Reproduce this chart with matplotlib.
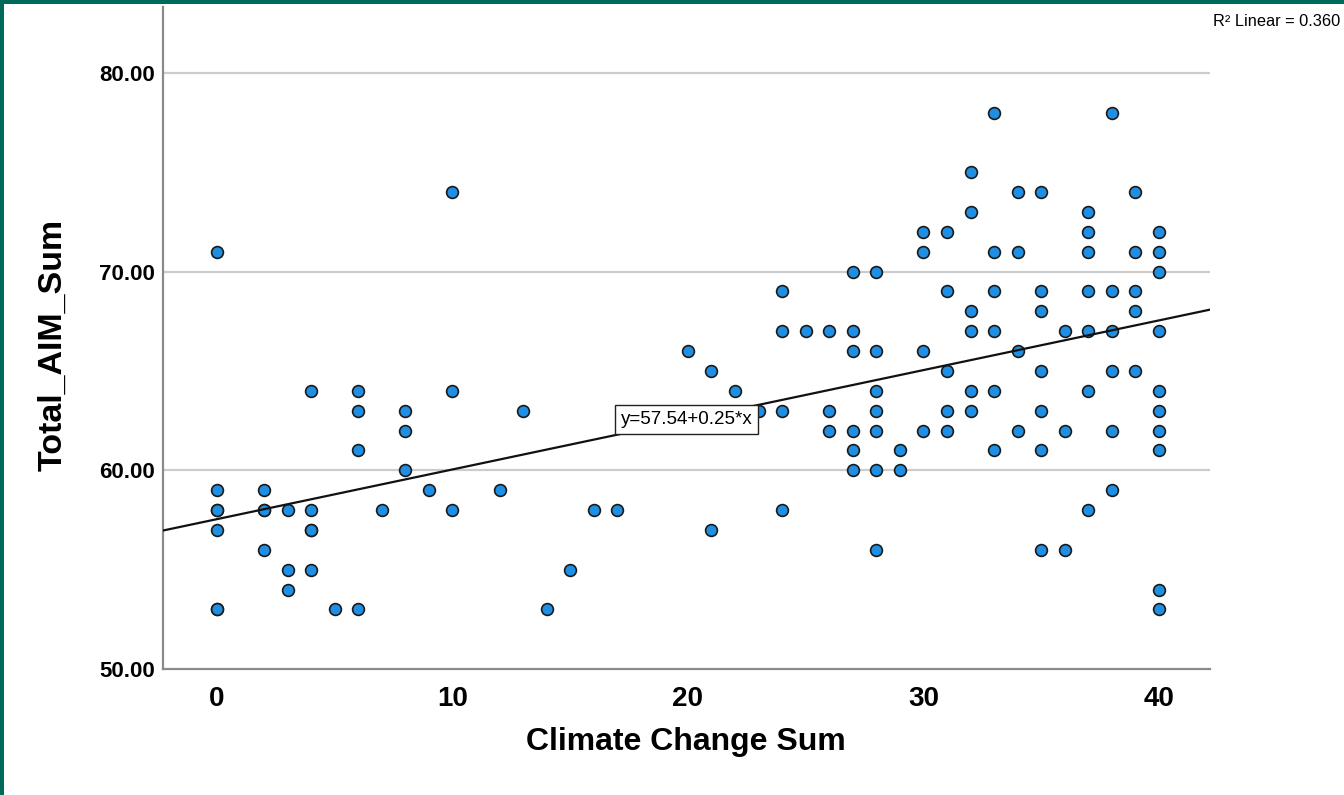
import matplotlib
matplotlib.use("Agg")
import matplotlib.pyplot as plt
import matplotlib.patches as patches

plt.rcParams['font.family'] = ['Liberation Sans', 'DejaVu Sans']

# data (one entry per respondent)
climate_sum = [0, 0, 0, 0, 0, 0, 0,
               2, 2, 2, 2,
               3, 3, 3,
               4, 4, 4, 4, 4,
               5,
               6, 6, 6, 6,
               7,
               8, 8, 8,
               9,
               10, 10, 10,
               12, 13, 14, 15, 16, 17,
               20, 21, 21, 22, 23,
               24, 24, 24, 24,
               25,
               26, 26, 26,
               27, 27, 27, 27, 27, 27,
               28, 28, 28, 28, 28, 28, 28,
               29, 29,
               30, 30, 30, 30,
               31, 31, 31, 31, 31,
               32, 32, 32, 32, 32, 32,
               33, 33, 33, 33, 33, 33,
               34, 34, 34, 34,
               35, 35, 35, 35, 35, 35, 35,
               36, 36, 36,
               37, 37, 37, 37, 37, 37, 37,
               38, 38, 38, 38, 38, 38,
               39, 39, 39, 39, 39,
               40, 40, 40, 40, 40, 40, 40, 40, 40, 40]
aim_sum = [71, 59, 58, 58, 57, 53, 53,
           59, 58, 58, 56,
           58, 55, 54,
           64, 58, 57, 57, 55,
           53,
           64, 63, 61, 53,
           58,
           63, 62, 60,
           59,
           74, 64, 58,
           59, 63, 53, 55, 58, 58,
           66, 65, 57, 64, 63,
           69, 67, 63, 58,
           67,
           67, 63, 62,
           70, 67, 66, 62, 61, 60,
           70, 66, 64, 63, 62, 60, 56,
           61, 60,
           72, 71, 66, 62,
           72, 69, 65, 63, 62,
           75, 73, 68, 67, 64, 63,
           78, 71, 69, 67, 64, 61,
           74, 71, 66, 62,
           74, 69, 68, 65, 63, 61, 56,
           67, 62, 56,
           73, 72, 71, 69, 67, 64, 58,
           78, 69, 67, 65, 62, 59,
           74, 71, 69, 68, 65,
           72, 71, 70, 67, 64, 63, 62, 61, 54, 53]

# fit reported on the chart
intercept = 57.54
slope = 0.25
r_squared = 0.360

x_ticks = [0, 10, 20, 30, 40]
y_ticks = [50, 60, 70, 80]

W, H = 1344, 795
fig = plt.figure(figsize=(W / 100, H / 100), dpi=100)
fig.patch.set_facecolor('white')

ax = fig.add_axes([163 / W, (H - 669) / H, (1210 - 163) / W, (669 - 7) / H])
xmin, xmax = -2.29, 42.17
ax.set_xlim(xmin, xmax)
ax.set_ylim(50, 83.31)

for v in y_ticks[1:]:
    ax.axhline(v, color='#cccccc', lw=1.6, zorder=1)

ax.scatter(climate_sum, aim_sum, s=72, facecolor='#1e8fe2', edgecolor='#1a1a1a',
           linewidth=1.2, zorder=3)

ax.plot([xmin, xmax], [intercept + slope * xmin, intercept + slope * xmax],
        color='#111111', lw=1.6, zorder=4)

ax.text(19.96, 62.55, f"y={intercept:.2f}+{slope:.2f}*x", fontsize=13.5,
        ha='center', va='center', zorder=5,
        bbox=dict(boxstyle='square,pad=0.3', facecolor='white', edgecolor='#222222', lw=1))

ax.set_xticks(x_ticks)
ax.set_xticklabels([str(t) for t in x_ticks], fontsize=20, fontweight='bold')
ax.set_yticks(y_ticks)
ax.set_yticklabels([f"{t:.2f}" for t in y_ticks], fontsize=16, fontweight='bold')
ax.tick_params(axis='both', length=0)
ax.tick_params(axis='x', pad=12)
ax.tick_params(axis='y', pad=6)

for s in ['top', 'right']:
    ax.spines[s].set_visible(False)
for s in ['left', 'bottom']:
    ax.spines[s].set_color('#8a8a8a')
    ax.spines[s].set_linewidth(1.6)

fig.text(686 / W, 1 - 742 / H, "Climate Change Sum", fontsize=23, fontweight='bold',
         ha='center', va='center')
fig.text(53 / W, 1 - 345 / H, "Total_AIM_Sum", fontsize=24.5, fontweight='bold',
         ha='center', va='center', rotation=90)

fig.text(1213 / W, 1 - 21 / H, f"R\u00b2 Linear = {r_squared:.3f}", fontsize=11.8,
         ha='left', va='center')

# teal frame on the left and top edges
fig.patches.append(patches.Rectangle((0, 0), 4 / W, 1, transform=fig.transFigure,
                                     facecolor='#006a5a', edgecolor='none'))
fig.patches.append(patches.Rectangle((0, 1 - 4 / H), 1, 4 / H, transform=fig.transFigure,
                                     facecolor='#006a5a', edgecolor='none'))

fig.savefig('out.png', dpi=100)
